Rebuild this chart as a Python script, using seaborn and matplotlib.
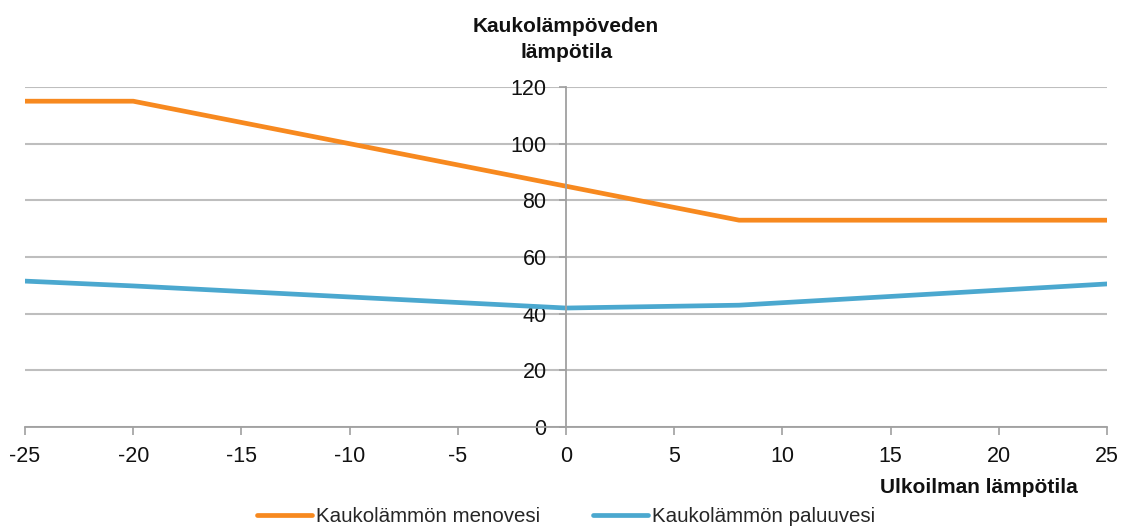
import pandas as pd
import matplotlib
matplotlib.use('Agg')
import matplotlib.pyplot as plt
import seaborn as sns

# outdoor temperature breakpoints and district heating water temperatures
supply_x = [-25, -20, 8, 25]
supply_y = [115, 115, 73, 73]
return_x = [-25, -20, 0, 8, 25]
return_y = [51.5, 49.8, 42, 43, 50.5]

supply_name = "Kaukolämmön menovesi"
return_name = "Kaukolämmön paluuvesi"
x_ticks = [-25, -20, -15, -10, -5, 0, 5, 10, 15, 20, 25]
y_ticks = [0, 20, 40, 60, 80, 100, 120]

df = pd.concat([
    pd.DataFrame({"x": supply_x, "y": supply_y, "sarja": supply_name}),
    pd.DataFrame({"x": return_x, "y": return_y, "sarja": return_name}),
])

sns.set_style("white")
plt.rcParams['font.family'] = ['Liberation Sans', 'DejaVu Sans']

fig = plt.figure(figsize=(11.21, 5.30), dpi=100)
ax = fig.add_axes([0.0223, 0.1943, 0.9652, 0.6415])

sns.lineplot(data=df, x="x", y="y", hue="sarja", sort=False,
             palette={supply_name: "#F7891F", return_name: "#4BA8CF"},
             linewidth=3.4, ax=ax, legend=True)

ax.set_xlim(-25, 25)
ax.set_ylim(0, 120)
ax.set_xticks(x_ticks)
ax.set_yticks(y_ticks)
ax.set_xticklabels([str(t) for t in x_ticks])
ax.set_yticklabels([str(t) for t in y_ticks])

# horizontal gridlines only
ax.yaxis.grid(True, color="#BEBEBE", linewidth=1.5)
ax.xaxis.grid(False)
ax.set_axisbelow(True)

# y axis sits at x=0, bottom axis is the zero line
for s in ["top", "right"]:
    ax.spines[s].set_visible(False)
ax.spines["left"].set_position(("data", 0))
ax.spines["left"].set_color("#A0A0A0")
ax.spines["left"].set_linewidth(1.3)
ax.spines["bottom"].set_color("#A0A0A0")
ax.spines["bottom"].set_linewidth(1.3)

ax.tick_params(axis="x", direction="out", length=6, width=1.2, color="#A0A0A0",
               labelsize=15.5, pad=8, labelcolor="#111111")
ax.tick_params(axis="y", direction="out", length=5, width=1.2, color="#A0A0A0",
               labelsize=15.5, pad=9, labelcolor="#111111")
ax.tick_params(bottom=True, left=True)

ax.set_xlabel("")
ax.set_ylabel("")

fig.text(0.505, 0.950, "Kaukolämpöveden", ha="center", va="center",
         fontsize=15, fontweight="bold", color="#111111")
fig.text(0.505, 0.900, "lämpötila", ha="center", va="center",
         fontsize=15, fontweight="bold", color="#111111")
fig.text(0.9616, 0.081, "Ulkoilman lämpötila", ha="right", va="center",
         fontsize=15, fontweight="bold", color="#111111")

handles, labels = ax.get_legend_handles_labels()
ax.legend(handles, labels, loc="center", bbox_to_anchor=(0.505, 0.025),
          bbox_transform=fig.transFigure, ncol=2, frameon=False,
          fontsize=14.8, handlelength=2.65, handletextpad=0.2,
          columnspacing=2.6)

plt.savefig("out.png", dpi=100)
